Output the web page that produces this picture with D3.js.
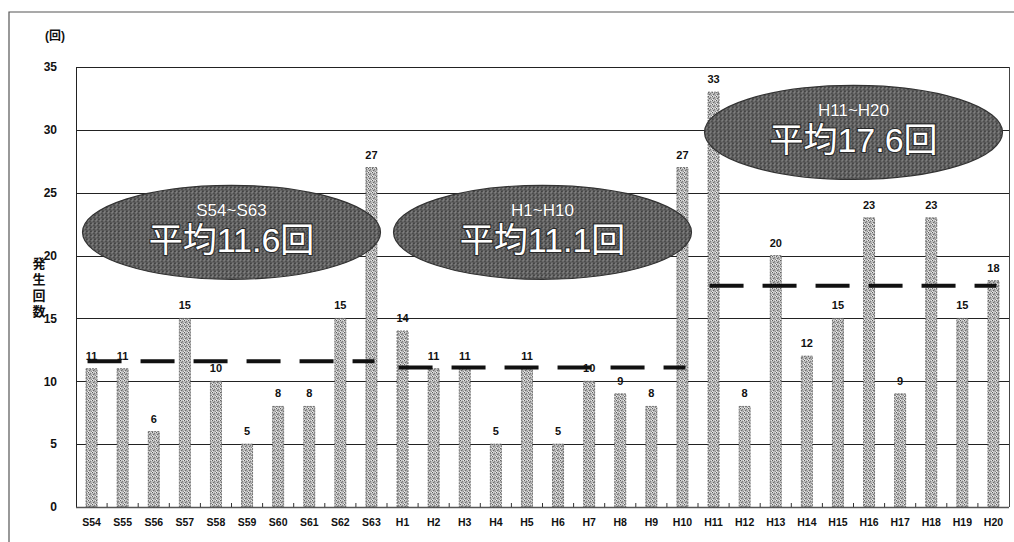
<!DOCTYPE html>
<html>
<head>
<meta charset="utf-8">
<script src="https://cdn.jsdelivr.net/npm/d3@7"></script>
<style>
  body { margin: 0; background: #fff; }
  text { font-family: "Liberation Sans", Arial, sans-serif; }
  .mixed { font-family: "Liberation Sans", "Noto Sans CJK JP", sans-serif; }
</style>
</head>
<body>
<svg id="chart" width="1014" height="542"></svg>
<script>
// Fiscal years (Showa 54 – Heisei 20) and yearly occurrence counts
const years = ["S54","S55","S56","S57","S58","S59","S60","S61","S62","S63",
               "H1","H2","H3","H4","H5","H6","H7","H8","H9","H10",
               "H11","H12","H13","H14","H15","H16","H17","H18","H19","H20"];
const counts = [11, 11, 6, 15, 10, 5, 8, 8, 15, 27,
                14, 11, 11, 5, 11, 5, 10, 9, 8, 27,
                33, 8, 20, 12, 15, 23, 9, 23, 15, 18];
const yTicks = [0, 5, 10, 15, 20, 25, 30, 35];

// Ten-year periods and their averages
const periodLabels = ["S54~S63", "H1~H10", "H11~H20"];
const periodFirst  = ["S54", "H1", "H11"];
const periodLast   = ["S63", "H10", "H20"];
const periodMeans  = [11.6, 11.1, 17.6];

const svg = d3.select("#chart");
const W = 1014, H = 542;
const plot = { left: 76, right: 1009, top: 67, bottom: 507 };

const x = d3.scaleBand().domain(years).range([plot.left, plot.right]).padding(0);
const y = d3.scaleLinear().domain([0, 35]).range([plot.bottom, plot.top]);

// Textures: stippled bars and mottled badge ellipses
const defs = svg.append("defs");
function texture(id, base, dots) {
  const p = defs.append("pattern").attr("id", id)
    .attr("patternUnits", "userSpaceOnUse").attr("width", 4).attr("height", 4);
  p.append("rect").attr("width", 4).attr("height", 4).attr("fill", base);
  dots.forEach(([px, py, c]) => p.append("rect").attr("x", px).attr("y", py)
    .attr("width", 1).attr("height", 1).attr("fill", c));
}
texture("stipple", "#bcbcbc",
  [[0,0,"#5e5e5e"],[2,1,"#7e7e7e"],[1,2,"#6c6c6c"],[3,3,"#8a8a8a"],[3,0,"#e6e6e6"],[0,3,"#ececec"],[2,2,"#a0a0a0"],[1,0,"#d8d8d8"]]);
texture("mottle", "#5e5e5e",
  [[0,0,"#9a9a9a"],[2,1,"#2a2a2a"],[1,2,"#8a8a8a"],[3,3,"#303030"],[3,0,"#747474"],[1,3,"#a4a4a4"],[2,3,"#383838"],[0,2,"#444"]]);

// Outer frame
svg.append("path")
  .attr("d", `M9,${H} V12 H${W}`)
  .attr("fill", "none").attr("stroke", "#555").attr("stroke-width", 1.2);

// Horizontal grid lines
svg.append("g").selectAll("line")
  .data(yTicks.filter(t => t > 0))
  .join("line")
  .attr("x1", plot.left).attr("x2", plot.right)
  .attr("y1", d => Math.round(y(d)) + 0.5).attr("y2", d => Math.round(y(d)) + 0.5)
  .attr("stroke", "#222").attr("stroke-width", 1);

// Plot frame (left and right edges)
svg.append("line").attr("x1", plot.left + 0.5).attr("x2", plot.left + 0.5)
  .attr("y1", plot.top).attr("y2", plot.bottom).attr("stroke", "#222");
svg.append("line").attr("x1", plot.right + 0.5).attr("x2", plot.right + 0.5)
  .attr("y1", plot.top).attr("y2", plot.bottom).attr("stroke", "#444");

// Y axis labels
const yAxis = d3.axisLeft(y).tickValues(yTicks).tickSize(0).tickPadding(19);
const gy = svg.append("g").attr("transform", `translate(${plot.left},0)`).call(yAxis);
gy.select(".domain").remove();
gy.selectAll("text").attr("font-size", 12).attr("font-weight", "bold").attr("fill", "#111")
  .attr("font-family", "Liberation Sans, Arial, sans-serif");

// Bars
const barW = 11;
svg.append("g").selectAll("rect")
  .data(years.map((yr, i) => ({ yr, v: counts[i] })))
  .join("rect")
  .attr("x", d => x(d.yr) + x.bandwidth() / 2 - barW / 2)
  .attr("y", d => y(d.v))
  .attr("width", barW)
  .attr("height", d => y(0) - y(d.v))
  .attr("fill", "url(#stipple)")
  .attr("stroke", "#5a5a5a").attr("stroke-width", 0.8)
  .attr("stroke-dasharray", "2 1");

// X axis: baseline, small inside ticks at band boundaries, labels
svg.append("line").attr("x1", plot.left).attr("x2", plot.right)
  .attr("y1", plot.bottom + 0.5).attr("y2", plot.bottom + 0.5)
  .attr("stroke", "#555").attr("stroke-width", 1.6);
svg.append("g").selectAll("line")
  .data(years.slice(1))
  .join("line")
  .attr("x1", d => x(d)).attr("x2", d => x(d))
  .attr("y1", plot.bottom).attr("y2", plot.bottom - 4)
  .attr("stroke", "#333");
const xAxis = d3.axisBottom(x).tickSize(0).tickPadding(12);
const gx = svg.append("g").attr("transform", `translate(0,${plot.bottom})`).call(xAxis);
gx.select(".domain").remove();
gx.selectAll("text").attr("font-size", 10.5).attr("font-weight", "bold").attr("fill", "#111")
  .attr("font-family", "Liberation Sans, Arial, sans-serif");

// Value labels above bars
svg.append("g").selectAll("text")
  .data(years.map((yr, i) => ({ yr, v: counts[i] })))
  .join("text")
  .attr("x", d => x(d.yr) + x.bandwidth() / 2)
  .attr("y", d => y(d.v) - 9)
  .attr("text-anchor", "middle")
  .attr("font-size", 11).attr("font-weight", "bold").attr("fill", "#111")
  .text(d => d.v);

// Period average dashed lines
svg.append("g").selectAll("line")
  .data(periodMeans.map((m, i) => ({ m, a: periodFirst[i], b: periodLast[i] })))
  .join("line")
  .attr("x1", d => x(d.a) + x.bandwidth() / 2 - 4)
  .attr("x2", d => x(d.b) + x.bandwidth() / 2 + 3)
  .attr("y1", d => y(d.m)).attr("y2", d => y(d.m))
  .attr("stroke", "#111").attr("stroke-width", 4)
  .attr("stroke-dasharray", "34 19");

// Period badges (ellipses with period range and average)
const badgeLevel = [21.85, 21.85, 29.8];
const badges = svg.append("g").selectAll("g")
  .data(periodMeans.map((m, i) => ({
    m, label: periodLabels[i],
    cx: (x(periodFirst[i]) + x(periodLast[i]) + x.bandwidth()) / 2,
    cy: y(badgeLevel[i])
  })))
  .join("g")
  .attr("transform", d => `translate(${d.cx},${d.cy})`);
badges.append("ellipse")
  .attr("rx", 149).attr("ry", 47)
  .attr("fill", "url(#mottle)")
  .attr("stroke", "#333").attr("stroke-width", 1.2);
badges.append("text")
  .attr("class", "mixed")
  .attr("y", -16)
  .attr("text-anchor", "middle")
  .attr("font-size", 17)
  .attr("fill", "#fff").attr("stroke", "#444").attr("stroke-width", 1)
  .attr("paint-order", "stroke")
  .text(d => d.label);
badges.append("text")
  .attr("class", "mixed")
  .attr("y", 20)
  .attr("text-anchor", "middle")
  .attr("font-size", 34)
  .attr("fill", "#fff").attr("stroke", "#2a2a2a").attr("stroke-width", 2.2)
  .attr("paint-order", "stroke")
  .text(d => `平均${d.m.toFixed(1)}回`);

// Unit and stacked vertical axis title
svg.append("text").attr("class", "mixed")
  .attr("x", 55).attr("y", 40).attr("text-anchor", "middle")
  .attr("font-size", 12).attr("font-weight", "bold").attr("fill", "#111")
  .text("(回)");
svg.append("g").selectAll("text")
  .data(Array.from("発生回数"))
  .join("text").attr("class", "mixed")
  .attr("x", 39).attr("y", (d, i) => 268 + i * 16)
  .attr("text-anchor", "middle")
  .attr("font-size", 13).attr("font-weight", "bold").attr("fill", "#111")
  .text(d => d);
</script>
</body>
</html>
